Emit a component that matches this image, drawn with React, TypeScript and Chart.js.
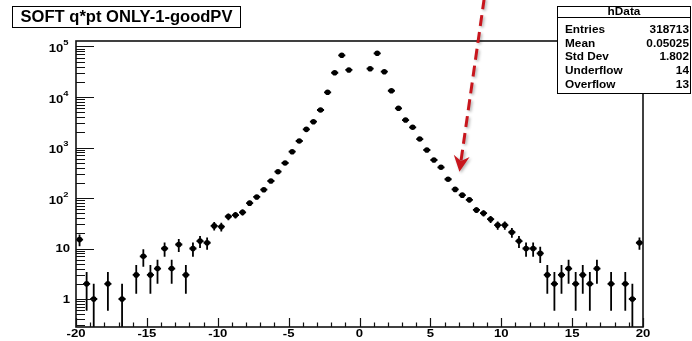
import React, { useEffect, useRef } from "react";
import { Chart, registerables } from "chart.js";

Chart.register(...registerables);

// ---- data ----
const BIN_LOW = -20;
const BIN_WIDTH = 0.5;
// 80 bins from -20 to 20 (counts, 0 = empty bin)
const COUNTS = [
  15, 2, 1, 0, 2, 0, 1, 0, 3, 7,
  3, 4, 10, 4, 12, 3, 10, 14, 13, 28,
  27, 43, 46, 52, 79, 105, 146, 217, 332, 493,
  826, 1345, 2290, 3240, 5530, 12400, 30200, 67000, 34300, 0,
  0, 36300, 73300, 31700, 13300, 5970, 3500, 2510, 1470, 893,
  565, 405, 235, 148, 114, 92, 58, 50, 38, 29,
  29, 21, 14, 10, 10, 8, 3, 2, 3, 4,
  2, 3, 2, 4, 0, 2, 0, 2, 1, 13,
];
const X_MIN = -20;
const X_MAX = 20;
const Y_MIN = 0.279;
const Y_MAX = 1.285e5;
const X_TICK_VALUES = [-20, -15, -10, -5, 0, 5, 10, 15, 20];
const X_TICK_LABELS = ["-20", "-15", "-10", "-5", "0", "5", "10", "15", "20"];
const Y_DECADES = [1, 10, 100, 1000, 10000, 100000];
const Y_DECADE_BASES = ["1", "10", "10", "10", "10", "10"];
const Y_DECADE_EXPS = ["", "", "2", "3", "4", "5"];
const TITLE = "SOFT q*pt ONLY-1-goodPV";
const STATS_NAME = "hData";
const STATS_LABELS = ["Entries", "Mean", "Std Dev", "Underflow", "Overflow"];
const STATS_VALUES = ["318713", "0.05025", "1.802", "14", "13"];
const ARROW_FROM = { x: 8.8, y: 9e5 };
const ARROW_TO = { x: 7.05, y: 330 };

const FONT = "'Liberation Sans', Arial, Helvetica, sans-serif";

function txt(ctx: CanvasRenderingContext2D, s: string, x: number, y: number, align: CanvasTextAlign, size: number, sx: number) {
  ctx.save();
  ctx.translate(x, y);
  ctx.scale(sx, 1);
  ctx.font = `bold ${size}px ${FONT}`;
  ctx.textAlign = align;
  ctx.textBaseline = "middle";
  ctx.fillText(s, 0, 0);
  ctx.restore();
}

function txtWidth(ctx: CanvasRenderingContext2D, s: string, size: number, sx: number) {
  ctx.save();
  ctx.font = `bold ${size}px ${FONT}`;
  const w = ctx.measureText(s).width * sx;
  ctx.restore();
  return w;
}

const rootPlugin = {
  id: "rootStyle",
  beforeDatasetsDraw(chart: any) {
    const { ctx, chartArea: a, scales } = chart;
    const x = scales.x, y = scales.y;
    ctx.save();
    ctx.beginPath();
    ctx.rect(a.left, a.top, a.right - a.left, a.bottom - a.top);
    ctx.clip();
    ctx.strokeStyle = "#000";
    ctx.lineWidth = 1.8;
    COUNTS.forEach((n, i) => {
      if (n <= 0) return;
      const cx = BIN_LOW + BIN_WIDTH * (i + 0.5);
      const e = Math.sqrt(n);
      const px = x.getPixelForValue(cx);
      const py = y.getPixelForValue(n);
      const lo = n - e > 1e-9 ? y.getPixelForValue(n - e) : a.bottom;
      const hi = y.getPixelForValue(n + e);
      ctx.beginPath();
      ctx.moveTo(px, lo);
      ctx.lineTo(px, hi);
      ctx.moveTo(x.getPixelForValue(cx - BIN_WIDTH / 2), py);
      ctx.lineTo(x.getPixelForValue(cx + BIN_WIDTH / 2), py);
      ctx.stroke();
    });
    ctx.restore();
  },
  afterDraw(chart: any) {
    const { ctx, chartArea: a, scales } = chart;
    const x = scales.x, y = scales.y;
    ctx.save();

    // frame
    ctx.strokeStyle = "#111";
    ctx.lineWidth = 1.6;
    ctx.strokeRect(a.left, a.top, a.right - a.left, a.bottom - a.top);

    // y ticks (log)
    ctx.lineWidth = 1.2;
    ctx.beginPath();
    for (let d = 0.1; d <= 1e6; d *= 10) {
      for (let k = 1; k <= 9; k++) {
        const v = k * d;
        if (v < Y_MIN || v > Y_MAX) continue;
        const py = Math.round(y.getPixelForValue(v)) + 0.5;
        const len = k === 1 ? 18 : 9;
        ctx.moveTo(a.left, py);
        ctx.lineTo(a.left + len, py);
      }
    }
    // x ticks
    for (let v = X_MIN; v <= X_MAX; v += 1) {
      const px = Math.round(x.getPixelForValue(v)) + 0.5;
      const len = v % 5 === 0 ? 9 : 4.5;
      ctx.moveTo(px, a.bottom);
      ctx.lineTo(px, a.bottom - len);
    }
    ctx.stroke();

    // x labels
    ctx.fillStyle = "#000";
    X_TICK_VALUES.forEach((v, i) => {
      txt(ctx, X_TICK_LABELS[i], x.getPixelForValue(v), a.bottom + 7.5, "center", 10.5, 1.25);
    });

    // y labels
    Y_DECADES.forEach((v, i) => {
      const py = y.getPixelForValue(v);
      const exp = Y_DECADE_EXPS[i];
      if (exp) {
        const right = 68.5;
        const ew = txtWidth(ctx, exp, 7.5, 1.25);
        txt(ctx, exp, right, py - 3.5, "right", 7.5, 1.25);
        txt(ctx, Y_DECADE_BASES[i], right - ew, py + 3, "right", 10.5, 1.25);
      } else {
        txt(ctx, Y_DECADE_BASES[i], 70, py + 1, "right", 10.5, 1.25);
      }
    });

    // title box
    ctx.fillStyle = "#fff";
    ctx.fillRect(12.5, 6.5, 228, 21);
    ctx.strokeStyle = "#000";
    ctx.lineWidth = 1;
    ctx.strokeRect(12.5, 6.5, 228, 21);
    ctx.fillStyle = "#000";
    txt(ctx, TITLE, 126.5, 17.5, "center", 16, 1.035);

    // stats box
    const sx = 557.5, sy = 6.5, sw = 133, sh = 87;
    ctx.fillStyle = "#fff";
    ctx.fillRect(sx, sy, sw, sh);
    ctx.strokeRect(sx, sy, sw, sh);
    ctx.beginPath();
    ctx.moveTo(sx, 17.5);
    ctx.lineTo(sx + sw, 17.5);
    ctx.stroke();
    ctx.fillStyle = "#000";
    txt(ctx, STATS_NAME, sx + sw / 2, 12.5, "center", 10, 1.18);
    STATS_LABELS.forEach((lab, i) => {
      const ry = 30 + i * 13.75;
      txt(ctx, lab, 565, ry, "left", 10, 1.18);
      txt(ctx, STATS_VALUES[i], 689, ry, "right", 10, 1.18);
    });

    // red dashed arrow
    const p0 = { x: x.getPixelForValue(ARROW_FROM.x), y: y.getPixelForValue(ARROW_FROM.y) };
    const p1 = { x: x.getPixelForValue(ARROW_TO.x), y: y.getPixelForValue(ARROW_TO.y) };
    const ang = Math.atan2(p1.y - p0.y, p1.x - p0.x);
    const headLen = 14, headW = 8;
    const cos = Math.cos(ang), sin = Math.sin(ang);
    const base = { x: p1.x - headLen * cos, y: p1.y - headLen * sin };
    ctx.shadowColor = "rgba(0,0,0,0.3)";
    ctx.shadowBlur = 3;
    ctx.shadowOffsetX = 1.5;
    ctx.shadowOffsetY = 1.5;
    ctx.strokeStyle = "#c8161d";
    ctx.fillStyle = "#c8161d";
    ctx.lineWidth = 3;
    ctx.setLineDash([11, 6]);
    ctx.beginPath();
    ctx.moveTo(p0.x, p0.y);
    ctx.lineTo(base.x + 3 * cos, base.y + 3 * sin);
    ctx.stroke();
    ctx.setLineDash([]);
    ctx.beginPath();
    ctx.moveTo(p1.x, p1.y);
    ctx.lineTo(base.x - headW * sin - 2 * cos, base.y + headW * cos - 2 * sin);
    ctx.lineTo(base.x + 3 * cos, base.y + 3 * sin);
    ctx.lineTo(base.x + headW * sin - 2 * cos, base.y - headW * cos - 2 * sin);
    ctx.closePath();
    ctx.fill();

    ctx.restore();
  },
};

export default function App() {
  const ref = useRef<HTMLCanvasElement>(null);
  useEffect(() => {
    document.body.style.margin = "0";
    const points = COUNTS.map((c, i) => ({ x: BIN_LOW + BIN_WIDTH * (i + 0.5), y: c })).filter((p) => p.y > 0);
    const chart = new Chart(ref.current as HTMLCanvasElement, {
      type: "scatter",
      data: {
        datasets: [
          {
            data: points,
            pointRadius: 2.8,
            pointBackgroundColor: "#000",
            pointBorderColor: "#000",
            pointBorderWidth: 0,
            showLine: false,
          },
        ],
      },
      options: {
        animation: false,
        responsive: false,
        maintainAspectRatio: false,
        events: [],
        layout: { padding: { left: 76, right: 49, top: 41, bottom: 14 } },
        plugins: { legend: { display: false }, tooltip: { enabled: false }, title: { display: false } },
        scales: {
          x: { type: "linear", min: X_MIN, max: X_MAX, display: false },
          y: { type: "logarithmic", min: Y_MIN, max: Y_MAX, display: false },
        },
      },
      plugins: [rootPlugin],
    } as any);
    return () => chart.destroy();
  }, []);
  return <canvas ref={ref} width={692} height={341} style={{ display: "block" }} />;
}
